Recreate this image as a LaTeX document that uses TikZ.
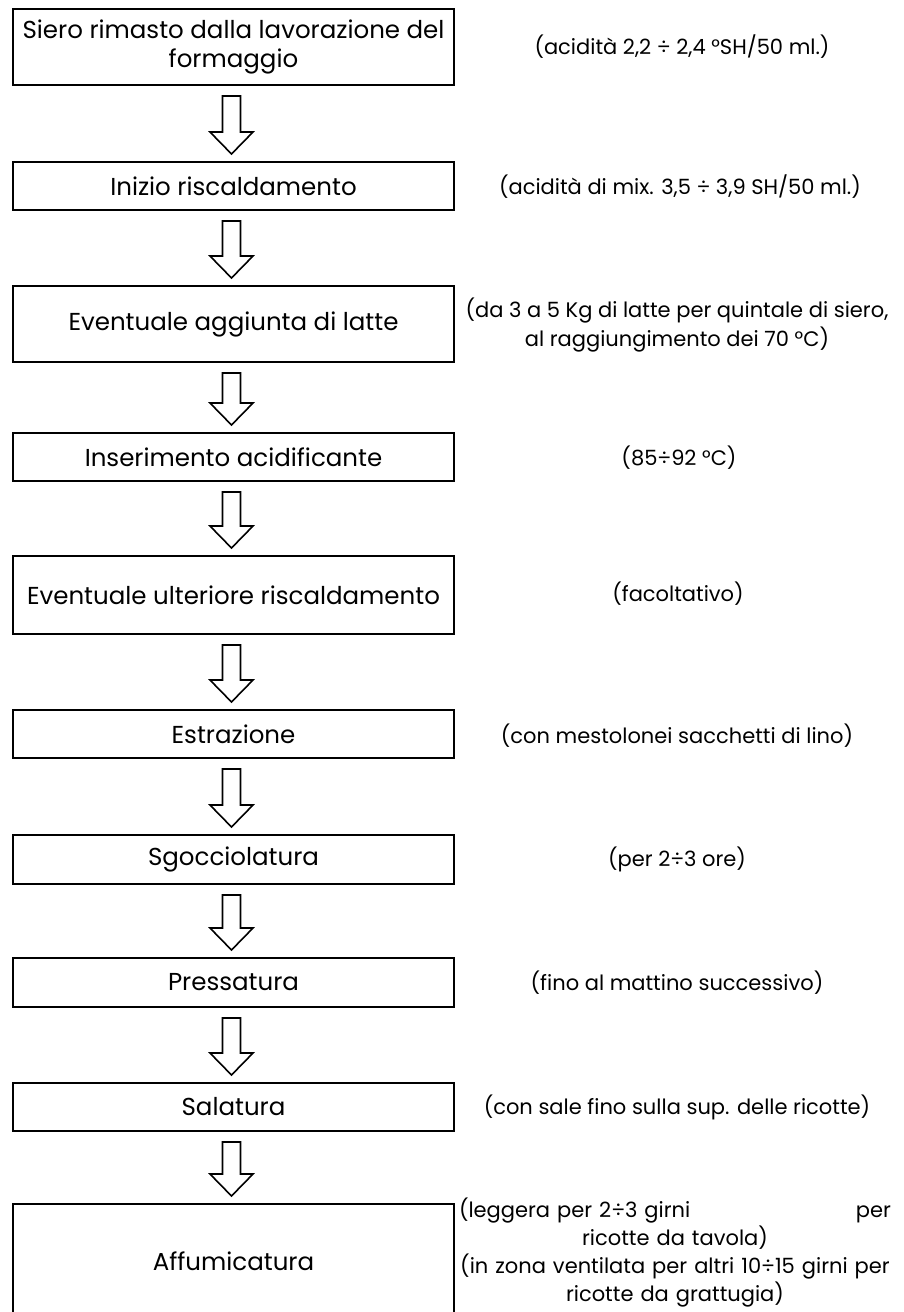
\documentclass[tikz,border=0pt]{standalone}
\usepackage{fontspec}
\setmainfont{Poppins}
\usetikzlibrary{calc}
\tikzset{
  stepbox/.style={draw, line width=2pt, minimum width=441pt, inner sep=0pt, align=center,
    font=\fontsize{24.5}{29}\selectfont},
  sidetext/.style={inner sep=0pt, align=center, font=\fontsize{21}{29}\selectfont},
  hollowarrow/.style={draw, line width=1.6pt, fill=white, line join=miter},
}
\newcommand{\bigarrow}[2]{%
  \draw[hollowarrow] ($(#1.south)+(-11,10)$) -- ($(#1.south)+(7,10)$)
    -- ($(#2.north)+(7,-29)$) -- ($(#2.north)+(19.5,-29)$)
    -- ($(#2.north)+(-2,-7)$) -- ($(#2.north)+(-23.5,-29)$)
    -- ($(#2.north)+(-11,-29)$) -- cycle;}
\begin{document}
\begin{tikzpicture}[x=1pt,y=-1pt]
\useasboundingbox (0,0) rectangle (903,1312);
\node[stepbox, minimum height=76pt] (b1) at (233.5,47) {Siero rimasto dalla lavorazione del\\formaggio};
\node[stepbox, minimum height=48pt] (b2) at (233.5,186) {Inizio riscaldamento};
\node[stepbox, minimum height=76pt] (b3) at (233.5,324) {Eventuale aggiunta di latte};
\node[stepbox, minimum height=48pt] (b4) at (233.5,457) {Inserimento acidificante};
\node[stepbox, minimum height=78pt] (b5) at (233.5,595) {Eventuale ulteriore riscaldamento};
\node[stepbox, minimum height=48pt] (b6) at (233.5,734) {Estrazione};
\node[stepbox, minimum height=49pt] (b7) at (233.5,859.5) {Sgocciolatura};
\node[stepbox, minimum height=49pt] (b8) at (233.5,982.5) {Pressatura};
\node[stepbox, minimum height=48pt] (b9) at (233.5,1107) {Salatura};
\node[stepbox, minimum height=114pt] (b10) at (233.5,1261) {Affumicatura};

\bigarrow{b1}{b2}
\bigarrow{b2}{b3}
\bigarrow{b3}{b4}
\bigarrow{b4}{b5}
\bigarrow{b5}{b6}
\bigarrow{b6}{b7}
\bigarrow{b7}{b8}
\bigarrow{b8}{b9}
\bigarrow{b9}{b10}

\node[sidetext] (s1) at (682,47) {(acidità 2,2 ÷ 2,4 °SH/50 ml.)};
\node[sidetext] (s2) at (680,187) {(acidità di mix. 3,5 ÷ 3,9 SH/50 ml.)};
\node[sidetext] (s3) at (677,325) {(da 3 a 5 Kg di latte per quintale di siero,\\al raggiungimento dei 70 °C)};
\node[sidetext] (s4) at (679,458) {(85÷92 °C)};
\node[sidetext] (s5) at (678,594) {(facoltativo)};
\node[sidetext] (s6) at (677,736) {(con mestolonei sacchetti di lino)};
\node[sidetext] (s7) at (677,859) {(per 2÷3 ore)};
\node[sidetext] (s8) at (677,983) {(fino al mattino successivo)};
\node[sidetext] (s9) at (677,1107) {(con sale fino sulla sup. delle ricotte)};
\node[sidetext, text width=432pt, font=\fontsize{21}{28}\selectfont] (s10) at (675,1253) {\makebox[\linewidth][s]{(leggera per 2÷3 girni\hfill per}\\ricotte da tavola)\\(in zona ventilata per altri 10÷15 girni per\\ricotte da grattugia)};
\end{tikzpicture}
\end{document}
